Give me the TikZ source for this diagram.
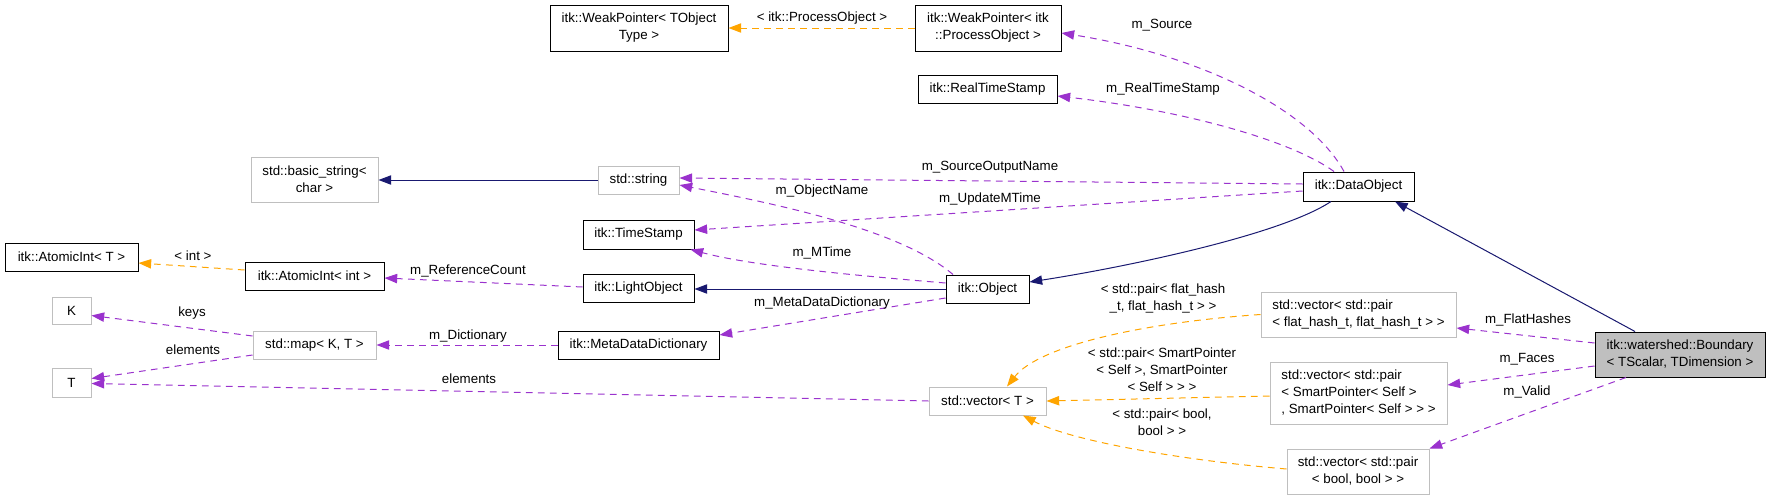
\documentclass[tikz,border=0pt]{standalone}
\usepackage{fontspec}
\setmainfont{Liberation Sans}
\usetikzlibrary{arrows.meta,calc}

\definecolor{inhblue}{HTML}{191970}
\definecolor{usepurple}{HTML}{9A32CD}
\definecolor{tmplorange}{HTML}{FFA500}
\definecolor{extgray}{HTML}{BFBFBF}

\begin{document}
\begin{tikzpicture}[x=0.75pt, y=-0.75pt,
  font=\fontsize{10}{12.75}\selectfont,
  box/.style 2 args={minimum width=#1*0.75pt, minimum height=#2*0.75pt, inner sep=0pt},
  cls/.style={draw=black, line width=0.75pt},
  ext/.style={draw=extgray, line width=0.75pt},
  inh/.style={draw=inhblue, line width=0.75pt, -{Triangle[length=9.5pt,width=7pt]}},
  use/.style={draw=usepurple, line width=0.75pt, dash pattern=on 5pt off 4pt, -{Triangle[length=9.5pt,width=7pt]}},
  tmpl/.style={use, draw=tmplorange},
  lbl/.style={inner sep=0pt, align=center}]
  \useasboundingbox (0,0) rectangle (1771,500);

  % classes
  \node[cls, box={178}{46}, align=center] (wpT)  at (639,28)     {itk::WeakPointer< TObject\\Type >};
  \node[cls, box={146}{46}, align=center] (wpPO) at (988,28)     {itk::WeakPointer< itk\\::ProcessObject >};
  \node[cls, box={139}{28}]               (rts)  at (987.5,89)   {itk::RealTimeStamp};
  \node[ext, box={127}{45}, align=center] (bstr) at (314.5,179.5) {std::basic\_string<\\char >};
  \node[ext, box={81}{28}]                (str)  at (638.5,180)  {std::string};
  \node[cls, box={111}{29}]               (dobj) at (1358.5,186.5) {itk::DataObject};
  \node[cls, box={111}{29}]               (ts)   at (638.5,234.5) {itk::TimeStamp};
  \node[cls, box={133}{28}]               (aiT)  at (71.5,257)   {itk::AtomicInt< T >};
  \node[cls, box={139}{28}]               (aiInt) at (314.5,276) {itk::AtomicInt< int >};
  \node[cls, box={111}{28}]               (lobj) at (638.5,288)  {itk::LightObject};
  \node[cls, box={83}{28}]                (obj)  at (987.5,289)  {itk::Object};
  \node[ext, box={39}{27}]                (K)    at (71.5,310.5) {K};
  \node[ext, box={123}{28}]               (map)  at (314.5,345)  {std::map< K, T >};
  \node[cls, box={161}{28}]               (mdd)  at (638.5,345)  {itk::MetaDataDictionary};
  \node[ext, box={39}{29}]                (T)    at (71.5,382.5) {T};
  \node[ext, box={117}{28}]               (vecT) at (987.5,401)  {std::vector< T >};
  \node[ext, box={195}{45}, align=left]   (vfh)  at (1358.5,314.5) {std::vector< std::pair\\< flat\_hash\_t, flat\_hash\_t > >};
  \node[ext, box={177}{62}, align=left]   (vsp)  at (1358.5,393) {std::vector< std::pair\\< SmartPointer< Self >\\, SmartPointer< Self > > >};
  \node[ext, box={142}{45}, align=center] (vb)   at (1358,471.5) {std::vector< std::pair\\< bool, bool > >};
  \node[cls, box={170}{45}, align=left, fill=extgray] (bnd) at (1680,354.5) {itk::watershed::Boundary\\< TScalar, TDimension >};

  % inheritance
  \draw[inh] (str.west) -- (str.west -| bstr.east);
  \draw[inh] (obj.west) -- (obj.west -| lobj.east);
  \draw[inh] ($(dobj.south)+(-27.5,0)$) .. controls +(-51,34) and +(91,-14) .. ($(obj.east)+(0,-7)$);
  \draw[inh] ($(bnd.north)+(-45,0)$) -- ($(dobj.south)+(36.5,0)$);

  % members
  \draw[use] ($(dobj.north)+(-14.5,0)$) .. controls +(-34,-62) and +(139,22) .. ($(wpPO.east)+(0,5)$);
  \draw[use] ($(dobj.north)+(-24.5,0)$) .. controls +(-44,-32) and +(123,14) .. ($(rts.east)+(0,7)$);
  \draw[use] ($(dobj.west)+(0,-2.5)$) -- ($(str.east)+(0,-2)$);
  \draw[use] ($(dobj.west)+(0,4.5)$) -- ($(ts.east)+(0,-4.5)$);
  \draw[use] ($(obj.north)+(-34.5,0)$) .. controls +(-53,-45) and +(101,20) .. ($(str.east)+(0,5)$);
  \draw[use] ($(obj.west)+(0,-6)$) .. controls +(-96,-8) and +(60,16) .. ($(ts.south east)+(-4,0)$);
  \draw[use] ($(obj.west)+(0,9)$) -- ($(mdd.east)+(0,-10)$);
  \draw[use] ($(lobj.west)+(0,-1)$) -- ($(aiInt.east)+(0,2)$);
  \draw[use] (mdd.west) -- (map.east);
  \draw[use] ($(map.west)+(0,-9)$) -- ($(K.east)+(0,5)$);
  \draw[use] ($(map.west)+(0,10)$) -- ($(T.east)+(0,-4)$);
  \draw[use] (vecT.west) -- ($(T.east)+(0,1)$);
  \draw[use] ($(bnd.west)+(0,-11.5)$) -- ($(vfh.east)+(0,13.5)$);
  \draw[use] ($(bnd.west)+(0,11.5)$) -- ($(vsp.east)+(0,-8)$);
  \draw[use] ($(bnd.south)+(-54,0)$) -- (vb.north east);

  % template instances
  \draw[tmpl] (wpPO.west) -- (wpT.east);
  \draw[tmpl] ($(aiInt.west)+(0,-6)$) -- ($(aiT.east)+(0,6)$);
  \draw[tmpl] (vfh.west) .. controls +(-111,7.5) and +(33,-42) .. ($(vecT.north)+(19.5,0)$);
  \draw[tmpl] ($(vsp.west)+(0,3)$) -- (vecT.east);
  \draw[tmpl] ($(vb.west)+(0,-2.5)$) .. controls +(-107,-9) and +(47,25) .. ($(vecT.south)+(35.5,0)$);

  % labels
  \node[lbl] (lPO)    at (822,18)  {< itk::ProcessObject >};
  \node[lbl] (lSrc)   at (1162,25) {m\_Source};
  \node[lbl] (lRts)   at (1163,89) {m\_RealTimeStamp};
  \node[lbl] (lSon)   at (990,167) {m\_SourceOutputName};
  \node[lbl] (lOn)    at (822,191) {m\_ObjectName};
  \node[lbl] (lUmt)   at (990,199) {m\_UpdateMTime};
  \node[lbl] (lMt)    at (822,253) {m\_MTime};
  \node[lbl] (lMdd)   at (822,303) {m\_MetaDataDictionary};
  \node[lbl] (lInt)   at (193,256) {< int >};
  \node[lbl] (lRc)    at (468,271) {m\_ReferenceCount};
  \node[lbl] (lKeys)  at (192,313) {keys};
  \node[lbl] (lElA)   at (193,350) {elements};
  \node[lbl] (lDict)  at (468,336) {m\_Dictionary};
  \node[lbl] (lElB)   at (469,379) {elements};
  \node[lbl] (lFh)    at (1163,298) {< std::pair< flat\_hash\\\_t, flat\_hash\_t > >};
  \node[lbl] (lSp)    at (1162,370) {< std::pair< SmartPointer\\< Self >, SmartPointer\\< Self > > >};
  \node[lbl] (lBool)  at (1162,422) {< std::pair< bool,\\bool > >};
  \node[lbl] (lFlat)  at (1528,320) {m\_FlatHashes};
  \node[lbl] (lFaces) at (1527,359) {m\_Faces};
  \node[lbl] (lValid) at (1527,392) {m\_Valid};
\end{tikzpicture}
\end{document}
